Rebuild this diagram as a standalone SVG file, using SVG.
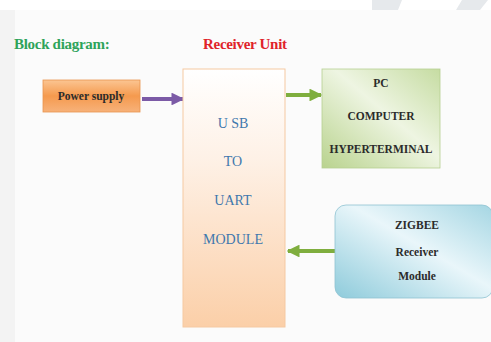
<svg xmlns="http://www.w3.org/2000/svg" width="491" height="342" viewBox="0 0 491 342">
<defs>
<linearGradient id="gOrange" x1="0" y1="0" x2="0" y2="1">
<stop offset="0" stop-color="#fbc592"/><stop offset="0.5" stop-color="#f59a4e"/><stop offset="1" stop-color="#f7b27a"/>
</linearGradient>
<linearGradient id="gPeach" x1="0" y1="0" x2="0" y2="1">
<stop offset="0" stop-color="#ffffff"/><stop offset="0.35" stop-color="#fef1e6"/><stop offset="1" stop-color="#fbcfa8"/>
</linearGradient>
<linearGradient id="gGreen" x1="0" y1="1" x2="1" y2="0">
<stop offset="0" stop-color="#b9d38e"/><stop offset="0.55" stop-color="#eef5e2"/><stop offset="1" stop-color="#c6dca2"/>
</linearGradient>
<linearGradient id="gBlue" x1="0" y1="1" x2="1" y2="0">
<stop offset="0" stop-color="#8ecbdb"/><stop offset="0.55" stop-color="#e9f6fa"/><stop offset="1" stop-color="#a5d6e3"/>
</linearGradient>
<marker id="hPurple" viewBox="0 0 10 10" refX="9" refY="5" markerWidth="3.2" markerHeight="3.2" orient="auto" markerUnits="strokeWidth"><path d="M0,0 L10,5 L0,10 z" fill="#7b5aa6"/></marker>
<marker id="hGreen" viewBox="0 0 10 10" refX="9" refY="5" markerWidth="3.2" markerHeight="3.2" orient="auto" markerUnits="strokeWidth"><path d="M0,0 L10,5 L0,10 z" fill="#7fae3e"/></marker>
</defs>
<style>
text{font-family:'Liberation Serif','DejaVu Serif',serif}
.t{font-weight:bold;fill:#2b2b2b;text-anchor:middle;font-size:11.5px}
.u{fill:#3f78ad;text-anchor:middle;font-size:14px}
.h{font-weight:bold;font-size:15px;letter-spacing:-0.3px}
</style>
<rect width="491" height="342" fill="#ffffff"/>
<rect x="0" y="10" width="491" height="332" fill="#fbfbfb"/>
<rect x="0" y="10" width="15" height="332" fill="#f3f3f3"/>
<polygon points="372,0 402,0 398,10 372,10" fill="#e6e9ec"/>
<polygon points="462,0 488,0 480,10 456,10" fill="#e6e9ec"/>
<text class="h" x="14" y="49" fill="#2ea35a">Block diagram:</text>
<text class="h" x="203" y="49" fill="#e0232a">Receiver Unit</text>
<g id="connectors">
<line x1="142" y1="99" x2="183" y2="99" stroke="#7b5aa6" stroke-width="4" marker-end="url(#hPurple)"/>
<line x1="286" y1="95" x2="321" y2="95" stroke="#7fae3e" stroke-width="4" marker-end="url(#hGreen)"/>
<line x1="335" y1="251" x2="288" y2="251" stroke="#7fae3e" stroke-width="4" marker-end="url(#hGreen)"/>
</g>
<g id="power">
<rect x="43" y="80" width="97" height="32" fill="url(#gOrange)" stroke="#e8954f" stroke-width="0.8"/>
<text class="t" x="91" y="100" font-size="12.5">Power supply</text>
</g>
<g id="usb">
<rect x="183" y="69" width="102" height="258" fill="url(#gPeach)" stroke="#f5c9a2" stroke-width="1"/>
<text class="u" x="233" y="128">U SB</text>
<text class="u" x="233" y="166">TO</text>
<text class="u" x="233" y="205">UART</text>
<text class="u" x="233" y="244">MODULE</text>
</g>
<g id="pc">
<rect x="322" y="69" width="118" height="99" fill="url(#gGreen)" stroke="#b6cf92" stroke-width="0.8"/>
<text class="t" x="381" y="87">PC</text>
<text class="t" x="381" y="120">COMPUTER</text>
<text class="t" x="381" y="153" font-size="10.5">HYPERTERMINAL</text>
</g>
<g id="zigbee">
<rect x="335" y="205" width="158" height="93" rx="11" fill="url(#gBlue)" stroke="#8fc3d2" stroke-width="0.8"/>
<text class="t" x="417" y="229">ZIGBEE</text>
<text class="t" x="417" y="256">Receiver</text>
<text class="t" x="417" y="280">Module</text>
</g>
</svg>
